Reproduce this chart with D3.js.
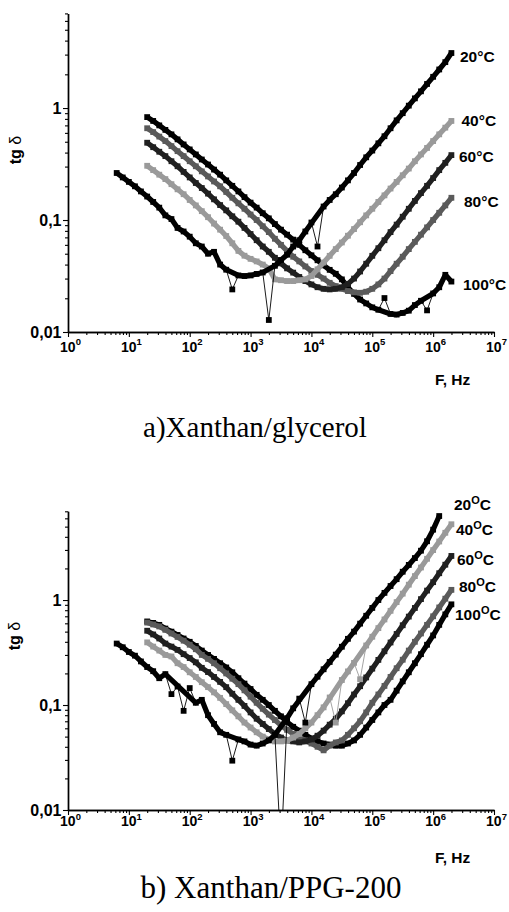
<!DOCTYPE html>
<html><head><meta charset="utf-8">
<script src="https://cdn.jsdelivr.net/npm/d3@7"></script>
<style>body{margin:0;background:#fff}svg{display:block}</style>
</head><body>
<svg id="c" width="509" height="912"></svg>
<script>
// ---------- DATA ----------
// measurement frequencies (Hz)
const freq = [6.31, 7.94, 10, 12.6, 15.8, 20, 25.1, 31.6, 39.8, 50.1, 63.1, 79.4, 100, 126, 158, 200, 251, 316, 398, 501, 631, 794, 1000, 1259, 1585, 1995, 2512, 3162, 3981, 5012, 6310, 7943, 10000, 12589, 15849, 19953, 25119, 31623, 39811, 50119, 63096, 79433, 100000, 125893, 158489, 199526, 251189, 316228, 398107, 501187, 630957, 794328, 1000000, 1258925, 1584893, 1995262];

const temps = ["20", "40", "60", "80", "100"];
const yTickValues = [0.01, 0.1, 1];
const yTickLabels = ["0,01", "0,1", "1"];
const xTickExps = [0, 1, 2, 3, 4, 5, 6, 7];

// a) Xanthan/glycerol  (tg delta)
const a20 = [0.263, 0.24, 0.219, 0.20, 0.18, 0.162, 0.145, 0.129, 0.11, 0.102, 0.085, 0.079, 0.071, 0.062, 0.058, 0.05, 0.052, 0.04, 0.036, 0.024, 0.032, 0.0316, 0.032, 0.033, 0.034, 0.0128, 0.039, 0.044, 0.049, 0.058, 0.066, 0.079, 0.095, 0.058, 0.132, 0.151, 0.17, 0.195, 0.226, 0.263, 0.31, 0.363, 0.417, 0.484, 0.56, 0.66, 0.776, 0.90, 1.05, 1.22, 1.41, 1.64, 1.9, 2.21, 2.57, 3.1];
const a40 = [0.305, 0.279, 0.254, 0.232, 0.209, 0.188, 0.17, 0.151, 0.135, 0.12, 0.106, 0.093, 0.082, 0.072, 0.062, 0.053, 0.048, 0.045, 0.0427, 0.040, 0.037, 0.0295, 0.029, 0.0285, 0.0285, 0.029, 0.0295, 0.0316, 0.0363, 0.0417, 0.0479, 0.055, 0.063, 0.0724, 0.083, 0.0955, 0.11, 0.126, 0.145, 0.166, 0.191, 0.219, 0.251, 0.288, 0.335, 0.385, 0.44, 0.507, 0.582, 0.668, 0.767];
const a60 = [0.49, 0.447, 0.407, 0.372, 0.335, 0.302, 0.269, 0.24, 0.214, 0.193, 0.172, 0.153, 0.136, 0.122, 0.108, 0.0966, 0.085, 0.075, 0.066, 0.058, 0.052, 0.046, 0.041, 0.037, 0.0339, 0.031, 0.0285, 0.0266, 0.0251, 0.0243, 0.024, 0.0243, 0.0251, 0.0269, 0.030, 0.0347, 0.0407, 0.0479, 0.056, 0.066, 0.078, 0.091, 0.107, 0.126, 0.148, 0.174, 0.202, 0.237, 0.279, 0.324, 0.38];
const a80 = [0.66, 0.61, 0.556, 0.507, 0.457, 0.412, 0.372, 0.335, 0.302, 0.272, 0.245, 0.221, 0.20, 0.178, 0.158, 0.141, 0.126, 0.112, 0.10, 0.088, 0.078, 0.068, 0.060, 0.053, 0.047, 0.0427, 0.0385, 0.035, 0.0324, 0.030, 0.0275, 0.0257, 0.0243, 0.0232, 0.0226, 0.0224, 0.0229, 0.0243, 0.0266, 0.030, 0.035, 0.0407, 0.047, 0.055, 0.0638, 0.074, 0.086, 0.10, 0.116, 0.135, 0.158];
const a100 = [0.83, 0.767, 0.70, 0.638, 0.582, 0.525, 0.473, 0.427, 0.385, 0.347, 0.313, 0.282, 0.254, 0.226, 0.202, 0.18, 0.16, 0.143, 0.129, 0.115, 0.1035, 0.092, 0.082, 0.074, 0.0668, 0.060, 0.0537, 0.0484, 0.0437, 0.0394, 0.0359, 0.0331, 0.0295, 0.025, 0.0219, 0.0195, 0.018, 0.0166, 0.0158, 0.0201, 0.0145, 0.0143, 0.0148, 0.0155, 0.0174, 0.019, 0.0156, 0.0221, 0.0251, 0.0324, 0.0282];

// b) Xanthan/PPG-200  (tg delta)
const b20 = [0.385, 0.355, 0.32, 0.295, 0.26, 0.23, 0.21, 0.18, 0.197, 0.127, 0.15, 0.088, 0.145, 0.105, 0.112, 0.08, 0.066, 0.055, 0.052, 0.0295, 0.047, 0.045, 0.042, 0.041, 0.043, 0.046, 0.052, 0.004, 0.075, 0.093, 0.115, 0.068, 0.158, 0.186, 0.219, 0.257, 0.302, 0.359, 0.427, 0.50, 0.596, 0.708, 0.841, 1.0, 1.17, 1.36, 1.58, 1.86, 2.16, 2.51, 2.95, 3.63, 4.68, 6.31];
const b40 = [0.395, 0.36, 0.33, 0.30, 0.29, 0.25, 0.23, 0.205, 0.185, 0.165, 0.148, 0.132, 0.117, 0.102, 0.089, 0.078, 0.068, 0.061, 0.055, 0.05, 0.047, 0.045, 0.045, 0.046, 0.049, 0.053, 0.06, 0.068, 0.08, 0.095, 0.118, 0.068, 0.173, 0.209, 0.252, 0.176, 0.369, 0.447, 0.54, 0.653, 0.789, 0.955, 1.15, 1.40, 1.69, 2.04, 2.47, 2.99, 3.61, 4.37, 5.27];
const b60 = [0.51, 0.47, 0.43, 0.385, 0.36, 0.335, 0.305, 0.28, 0.255, 0.226, 0.206, 0.185, 0.166, 0.148, 0.128, 0.112, 0.098, 0.085, 0.074, 0.066, 0.059, 0.053, 0.049, 0.046, 0.045, 0.044, 0.045, 0.047, 0.051, 0.057, 0.065, 0.074, 0.087, 0.104, 0.126, 0.151, 0.183, 0.222, 0.269, 0.325, 0.394, 0.475, 0.575, 0.695, 0.84, 1.02, 1.23, 1.48, 1.8, 2.17, 2.63];
const b80 = [0.61, 0.585, 0.56, 0.52, 0.48, 0.445, 0.41, 0.375, 0.34, 0.30, 0.275, 0.25, 0.224, 0.2, 0.178, 0.158, 0.138, 0.12, 0.105, 0.092, 0.081, 0.072, 0.064, 0.058, 0.053, 0.049, 0.046, 0.043, 0.04, 0.037, 0.041, 0.044, 0.046, 0.052, 0.06, 0.07, 0.085, 0.105, 0.126, 0.152, 0.185, 0.224, 0.27, 0.33, 0.4, 0.48, 0.58, 0.70, 0.85, 1.03, 1.25];
const b100 = [0.625, 0.605, 0.58, 0.535, 0.5, 0.465, 0.43, 0.4, 0.365, 0.33, 0.3, 0.275, 0.25, 0.228, 0.205, 0.18, 0.16, 0.142, 0.125, 0.112, 0.1, 0.088, 0.078, 0.069, 0.062, 0.057, 0.052, 0.048, 0.045, 0.043, 0.042, 0.041, 0.041, 0.043, 0.046, 0.052, 0.061, 0.072, 0.085, 0.1, 0.112, 0.137, 0.168, 0.205, 0.25, 0.305, 0.375, 0.46, 0.58, 0.73, 0.91];

// ---------- STYLE / LAYOUT ----------
const colors = {"20": "#000000", "40": "#9a9a9a", "60": "#202020", "80": "#5a5a5a", "100": "#000000"};
const startIndex = {a: {"20": 0, "40": 5, "60": 5, "80": 5, "100": 5}, b: {"20": 0, "40": 5, "60": 5, "80": 5, "100": 5}};
const sans = "'Liberation Sans', Arial, Helvetica, sans-serif";
const serif = "'Liberation Serif', 'Times New Roman', serif";

const panels = [
  {id: "a", top: 13.4, bottom: 332, left: 68, right: 494,
   data: {"20": a20, "40": a40, "60": a60, "80": a80, "100": a100},
   xLabelY: 19.5, fhzY: 385, title: "a)Xanthan/glycerol", titleX: 255, titleY: 437, titleSize: 29,
   ylabX: 21, ylabY: 150, supO: false,
   labelPos: {"20": [460, 62], "40": [461.5, 126], "60": [459, 161.5], "80": [464, 206.5], "100": [463, 290]}},
  {id: "b", top: 511.3, bottom: 810, left: 68, right: 494,
   data: {"20": b20, "40": b40, "60": b60, "80": b80, "100": b100},
   xLabelY: 16, fhzY: 863, title: "b) Xanthan/PPG-200", titleX: 271, titleY: 898, titleSize: 31,
   ylabX: 20, ylabY: 636, supO: true,
   labelPos: {"20": [454, 510], "40": [456, 535], "60": [457, 565], "80": [459, 591.5], "100": [455, 620]}}
];

const svg = d3.select("#c");
const defs = svg.append("defs");

panels.forEach(p => {
  const x = d3.scaleLog().domain([1, 1e7]).range([p.left, p.right]);
  const y = d3.scaleLog().domain([0.01, 7]).range([p.bottom, p.top]);
  const g = svg.append("g");

  defs.append("clipPath").attr("id", "clip" + p.id)
    .append("rect").attr("x", p.left).attr("y", p.top - 6)
    .attr("width", p.right - p.left + 8).attr("height", p.bottom - p.top + 6);

  const plot = g.append("g").attr("clip-path", `url(#clip${p.id})`);
  const order = ["100", "80", "60", "40", "20"];
  const line = d3.line().x(d => x(d.f)).y(d => y(Math.max(d.v, 1e-4)));

  order.forEach(t => {
    const vals = p.data[t];
    const s0 = startIndex[p.id][t];
    const col = colors[t];
    const pts = vals.map((v, i) => ({f: freq[s0 + i], v}));
    const lv = pts.map(d => Math.log10(d.v));
    pts.forEach((d, i) => {
      if (i === 0 || i === pts.length - 1) { d.out = false; return; }
      const da = lv[i] - lv[i - 1], db = lv[i] - lv[i + 1];
      d.out = (da * db > 0) && Math.abs(da) > 0.07 && Math.abs(db) > 0.07;
    });
    plot.append("path").datum(pts.filter(d => !d.out)).attr("d", line)
      .attr("fill", "none").attr("stroke", col).attr("stroke-width", 5.2).attr("stroke-linejoin", "round");
    plot.append("path").datum(pts).attr("d", line)
      .attr("fill", "none").attr("stroke", col).attr("stroke-width", 0.9);
    plot.append("g").selectAll("rect").data(pts).join("rect")
      .attr("x", d => x(d.f) - 2.9).attr("y", d => y(Math.max(d.v, 1e-4)) - 2.9)
      .attr("width", 5.8).attr("height", 5.8).attr("fill", col);
  });

  // axes
  const xMinor = [], yMinor = [];
  for (let e = 0; e < 7; e++) for (let k = 2; k <= 9; k++) xMinor.push(k * Math.pow(10, e));
  for (let e = -2; e <= 0; e++) for (let k = 2; k <= 9; k++) { const v = k * Math.pow(10, e); if (v <= 7.01) yMinor.push(v); }
  const xMajor = xTickExps.map(e => Math.pow(10, e));

  const styleAxis = sel => {
    sel.selectAll("path.domain").attr("stroke", "#000").attr("stroke-width", 1.4);
    sel.selectAll(".tick line").attr("stroke", "#000").attr("stroke-width", 1.1);
  };

  g.append("g").attr("transform", `translate(0,${p.bottom})`)
    .call(d3.axisBottom(x).tickValues(xMinor).tickSize(3).tickSizeOuter(0).tickFormat(""))
    .call(styleAxis);
  const xAx = g.append("g").attr("transform", `translate(0,${p.bottom})`)
    .call(d3.axisBottom(x).tickValues(xMajor).tickSize(5).tickSizeOuter(0).tickFormat(""))
    .call(styleAxis);
  xAx.selectAll(".tick").each(function(d, i) {
    const t = d3.select(this).append("text").attr("y", p.xLabelY).attr("x", 2)
      .attr("text-anchor", "middle").attr("fill", "#000")
      .attr("font-family", sans).attr("font-weight", "bold").attr("font-size", 14);
    t.append("tspan").text("10");
    t.append("tspan").attr("dy", -6.5).attr("font-size", 9.5).text(xTickExps[i]);
  });

  g.append("g").attr("transform", `translate(${p.left},0)`)
    .call(d3.axisLeft(y).tickValues(yMinor).tickSize(3).tickSizeOuter(0).tickFormat(""))
    .call(styleAxis);
  const yAx = g.append("g").attr("transform", `translate(${p.left},0)`)
    .call(d3.axisLeft(y).tickValues(yTickValues).tickSize(5).tickSizeOuter(0)
      .tickFormat((d, i) => yTickLabels[i]))
    .call(styleAxis);
  yAx.selectAll(".tick text").attr("x", -6.5).attr("dy", "0.36em").attr("fill", "#000")
    .attr("font-family", sans).attr("font-weight", "bold").attr("font-size", 16);

  // axis titles
  const yl = g.append("text").attr("transform", `translate(${p.ylabX},${p.ylabY}) rotate(-90)`)
    .attr("text-anchor", "middle").attr("font-family", sans).attr("font-size", 16).attr("fill", "#000");
  yl.append("tspan").attr("font-weight", "bold").text("tg ");
  yl.append("tspan").text("δ");

  g.append("text").attr("x", 435).attr("y", p.fhzY).attr("font-family", sans)
    .attr("font-weight", "bold").attr("font-size", 15.5).attr("fill", "#000").text("F, Hz");

  // series labels
  temps.forEach(t => {
    const [lx, ly] = p.labelPos[t];
    const tx = g.append("text").attr("x", lx).attr("y", ly).attr("font-family", sans)
      .attr("font-weight", "bold").attr("font-size", 15.5).attr("fill", "#000");
    if (p.supO) {
      tx.append("tspan").text(t);
      tx.append("tspan").attr("dy", -6).attr("font-size", 11).text("O");
      tx.append("tspan").attr("dy", 6).text("C");
    } else {
      tx.text(t + "°C");
    }
  });

  // panel caption
  g.append("text").attr("x", p.titleX).attr("y", p.titleY).attr("text-anchor", "middle")
    .attr("font-family", serif).attr("font-size", p.titleSize).attr("fill", "#000").text(p.title);
});
</script>
</body></html>
